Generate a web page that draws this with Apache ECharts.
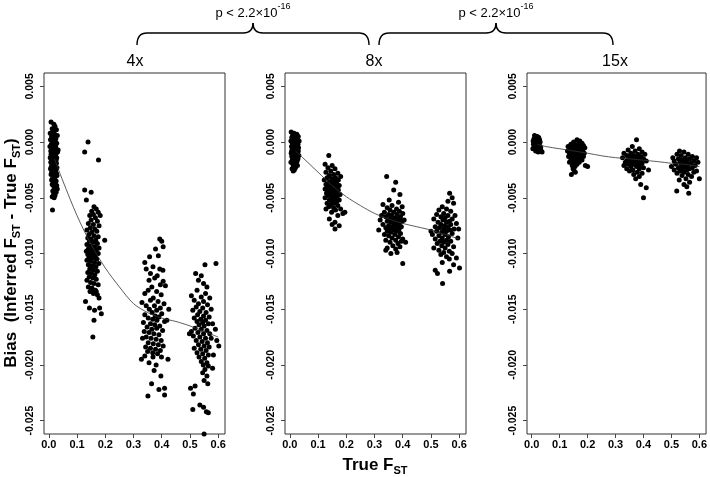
<!DOCTYPE html>
<html><head><meta charset="utf-8">
<script src="https://cdn.jsdelivr.net/npm/echarts@6/dist/echarts.min.js"></script>
<style>html,body{margin:0;padding:0;background:#fff}#c{width:710px;height:477px}</style>
</head><body><div id="c"></div>
<script>
// ---- data ----
const panelNames = ['4x', '8x', '15x'];
const xTicks = [0, 0.1, 0.2, 0.3, 0.4, 0.5, 0.6];
const yTicks = [-0.025, -0.02, -0.015, -0.01, -0.005, 0, 0.005];
const pText = 'p < 2.2×10';
const pExp = '-16';

// 4x coverage
const cov4x_a = [[0.008,0.0018],[0.018,0.0016],[0.022,0.0014],[0.012,0.0012],[0.027,0.0011],[0.015,0.0009],[0.005,0.0008],[0.021,0.0007],[0.030,0.0006],[0.010,0.0005],[0.017,0.0004],[0.025,0.0003],[0.006,0.0002],[0.013,0.0001],[0.020,0.0000],[0.028,-0.0001],[0.009,-0.0002],[0.016,-0.0003],[0.023,-0.0003],[0.004,-0.0004],[0.011,-0.0005],[0.019,-0.0005],[0.026,-0.0006],[0.014,-0.0007],[0.007,-0.0008],[0.022,-0.0008],[0.031,-0.0009],[0.012,-0.0010],[0.018,-0.0010],[0.025,-0.0011],[0.009,-0.0012],[0.015,-0.0012],[0.021,-0.0013],[0.005,-0.0014],[0.028,-0.0014],[0.013,-0.0015],[0.019,-0.0015],[0.010,-0.0016],[0.024,-0.0017],[0.016,-0.0017],[0.007,-0.0018],[0.020,-0.0018],[0.027,-0.0019],[0.012,-0.0020],[0.017,-0.0020],[0.023,-0.0021],[0.009,-0.0022],[0.014,-0.0022],[0.029,-0.0023],[0.019,-0.0023],[0.006,-0.0024],[0.025,-0.0025],[0.011,-0.0025],[0.016,-0.0026],[0.021,-0.0027],[0.013,-0.0028],[0.027,-0.0028],[0.008,-0.0029],[0.018,-0.0030],[0.023,-0.0031],[0.014,-0.0032],[0.020,-0.0033],[0.010,-0.0034],[0.026,-0.0035],[0.016,-0.0036],[0.022,-0.0037],[0.012,-0.0038],[0.028,-0.0039],[0.018,-0.0040],[0.024,-0.0041],[0.030,-0.0042],[0.020,-0.0043],[0.014,-0.0044],[0.026,-0.0045],[0.017,-0.0047],[0.022,-0.0048],[0.012,-0.0049],[0.019,-0.0050],[0.013,-0.0061],[0.011,0.0003],[0.024,-0.0004],[0.008,-0.0011],[0.026,-0.0016],[0.015,-0.0021],[0.022,-0.0024],[0.010,-0.0027],[0.019,-0.0009],[0.029,-0.0030],[0.033,-0.0007]];
const cov4x_b = [[0.139,0.0000],[0.127,-0.0009],[0.176,-0.0016],[0.127,-0.0043],[0.150,-0.0045],[0.133,-0.0052],[0.160,-0.0058],[0.168,-0.0060],[0.152,-0.0062],[0.175,-0.0063],[0.158,-0.0065],[0.145,-0.0066],[0.182,-0.0066],[0.165,-0.0068],[0.150,-0.0070],[0.172,-0.0071],[0.140,-0.0073],[0.158,-0.0074],[0.178,-0.0075],[0.147,-0.0077],[0.163,-0.0078],[0.135,-0.0079],[0.170,-0.0080],[0.152,-0.0081],[0.142,-0.0083],[0.160,-0.0084],[0.175,-0.0085],[0.138,-0.0086],[0.150,-0.0087],[0.166,-0.0088],[0.198,-0.0088],[0.144,-0.0089],[0.157,-0.0090],[0.172,-0.0091],[0.135,-0.0092],[0.148,-0.0093],[0.162,-0.0094],[0.178,-0.0095],[0.140,-0.0096],[0.153,-0.0096],[0.168,-0.0097],[0.133,-0.0098],[0.146,-0.0099],[0.159,-0.0099],[0.175,-0.0100],[0.138,-0.0101],[0.150,-0.0102],[0.165,-0.0102],[0.142,-0.0104],[0.156,-0.0104],[0.170,-0.0105],[0.135,-0.0106],[0.148,-0.0107],[0.162,-0.0108],[0.177,-0.0109],[0.140,-0.0110],[0.153,-0.0111],[0.167,-0.0112],[0.145,-0.0114],[0.158,-0.0115],[0.172,-0.0116],[0.138,-0.0117],[0.150,-0.0118],[0.163,-0.0119],[0.143,-0.0121],[0.156,-0.0122],[0.168,-0.0123],[0.135,-0.0124],[0.148,-0.0126],[0.160,-0.0127],[0.175,-0.0128],[0.140,-0.0130],[0.153,-0.0131],[0.165,-0.0133],[0.146,-0.0134],[0.158,-0.0136],[0.172,-0.0137],[0.130,-0.0143],[0.144,-0.0149],[0.162,-0.0151],[0.160,-0.0160],[0.156,-0.0175],[0.180,-0.0149],[0.186,-0.0154],[0.178,-0.0140],[0.150,-0.0134],[0.168,-0.0134]];
const cov4x_c = [[0.393,-0.0087],[0.400,-0.0089],[0.378,-0.0096],[0.405,-0.0094],[0.357,-0.0103],[0.388,-0.0102],[0.340,-0.0108],[0.369,-0.0112],[0.393,-0.0114],[0.404,-0.0115],[0.345,-0.0114],[0.360,-0.0118],[0.384,-0.0120],[0.355,-0.0124],[0.375,-0.0122],[0.405,-0.0125],[0.395,-0.0128],[0.365,-0.0130],[0.413,-0.0129],[0.352,-0.0133],[0.382,-0.0134],[0.340,-0.0136],[0.398,-0.0137],[0.370,-0.0140],[0.330,-0.0144],[0.360,-0.0142],[0.387,-0.0143],[0.408,-0.0145],[0.345,-0.0147],[0.374,-0.0147],[0.395,-0.0149],[0.356,-0.0150],[0.382,-0.0151],[0.366,-0.0153],[0.400,-0.0154],[0.340,-0.0155],[0.377,-0.0156],[0.390,-0.0157],[0.352,-0.0158],[0.368,-0.0159],[0.383,-0.0160],[0.410,-0.0161],[0.335,-0.0162],[0.360,-0.0163],[0.375,-0.0164],[0.393,-0.0165],[0.348,-0.0166],[0.382,-0.0167],[0.365,-0.0168],[0.403,-0.0169],[0.338,-0.0170],[0.355,-0.0171],[0.372,-0.0172],[0.390,-0.0173],[0.345,-0.0175],[0.362,-0.0176],[0.380,-0.0177],[0.398,-0.0178],[0.332,-0.0176],[0.352,-0.0180],[0.370,-0.0181],[0.388,-0.0182],[0.405,-0.0183],[0.343,-0.0184],[0.360,-0.0185],[0.378,-0.0186],[0.395,-0.0187],[0.350,-0.0188],[0.368,-0.0189],[0.385,-0.0190],[0.328,-0.0195],[0.340,-0.0192],[0.369,-0.0193],[0.399,-0.0193],[0.422,-0.0195],[0.355,-0.0198],[0.373,-0.0205],[0.397,-0.0210],[0.364,-0.0217],[0.390,-0.0222],[0.410,-0.0221],[0.351,-0.0228],[0.410,-0.0227],[0.380,-0.0200],[0.418,-0.0160],[0.425,-0.0150]];
const cov4x_d = [[0.553,-0.0110],[0.592,-0.0109],[0.520,-0.0118],[0.540,-0.0120],[0.530,-0.0124],[0.548,-0.0127],[0.560,-0.0130],[0.525,-0.0133],[0.555,-0.0136],[0.505,-0.0138],[0.540,-0.0139],[0.570,-0.0140],[0.515,-0.0142],[0.548,-0.0143],[0.530,-0.0145],[0.562,-0.0146],[0.522,-0.0148],[0.545,-0.0149],[0.575,-0.0150],[0.510,-0.0151],[0.535,-0.0152],[0.557,-0.0153],[0.527,-0.0155],[0.548,-0.0156],[0.568,-0.0157],[0.515,-0.0158],[0.538,-0.0159],[0.555,-0.0160],[0.525,-0.0161],[0.545,-0.0162],[0.565,-0.0163],[0.532,-0.0164],[0.550,-0.0165],[0.580,-0.0163],[0.518,-0.0167],[0.540,-0.0168],[0.560,-0.0169],[0.505,-0.0170],[0.528,-0.0171],[0.548,-0.0172],[0.570,-0.0172],[0.590,-0.0168],[0.512,-0.0174],[0.535,-0.0175],[0.555,-0.0176],[0.575,-0.0176],[0.522,-0.0178],[0.543,-0.0179],[0.562,-0.0180],[0.530,-0.0182],[0.550,-0.0183],[0.568,-0.0184],[0.602,-0.0183],[0.515,-0.0185],[0.538,-0.0186],[0.557,-0.0187],[0.525,-0.0189],[0.545,-0.0190],[0.565,-0.0191],[0.583,-0.0191],[0.532,-0.0193],[0.552,-0.0194],[0.540,-0.0197],[0.560,-0.0198],[0.547,-0.0200],[0.565,-0.0201],[0.553,-0.0204],[0.580,-0.0203],[0.545,-0.0207],[0.560,-0.0210],[0.550,-0.0214],[0.563,-0.0217],[0.502,-0.0221],[0.518,-0.0219],[0.512,-0.0226],[0.535,-0.0236],[0.510,-0.0240],[0.548,-0.0238],[0.565,-0.0243],[0.558,-0.0242],[0.550,-0.0262],[0.498,-0.0172],[0.595,-0.0178]];

// 8x coverage
const cov8x_a = [[0.005,0.0009],[0.015,0.0008],[0.025,0.0007],[0.010,0.0006],[0.020,0.0006],[0.030,0.0005],[0.007,0.0004],[0.017,0.0004],[0.027,0.0003],[0.012,0.0002],[0.022,0.0002],[0.004,0.0001],[0.033,0.0001],[0.015,0.0000],[0.025,-0.0001],[0.009,-0.0001],[0.019,-0.0002],[0.029,-0.0002],[0.013,-0.0003],[0.023,-0.0003],[0.006,-0.0004],[0.017,-0.0004],[0.031,-0.0005],[0.011,-0.0005],[0.021,-0.0006],[0.026,-0.0006],[0.008,-0.0007],[0.015,-0.0007],[0.024,-0.0008],[0.012,-0.0008],[0.019,-0.0009],[0.028,-0.0009],[0.005,-0.0010],[0.016,-0.0010],[0.022,-0.0010],[0.010,-0.0011],[0.026,-0.0011],[0.014,-0.0012],[0.020,-0.0012],[0.032,-0.0012],[0.007,-0.0013],[0.018,-0.0013],[0.024,-0.0014],[0.012,-0.0014],[0.029,-0.0015],[0.016,-0.0015],[0.021,-0.0016],[0.009,-0.0016],[0.026,-0.0017],[0.014,-0.0017],[0.019,-0.0018],[0.004,-0.0018],[0.023,-0.0019],[0.011,-0.0020],[0.017,-0.0021],[0.027,-0.0021],[0.013,-0.0022],[0.020,-0.0023],[0.008,-0.0024],[0.016,-0.0025],[0.012,-0.0026],[0.018,-0.0007],[0.023,-0.0005],[0.010,-0.0003],[0.027,-0.0013],[0.006,-0.0009],[0.030,-0.0008]];
const cov8x_b = [[0.138,-0.0012],[0.125,-0.0020],[0.150,-0.0021],[0.135,-0.0023],[0.160,-0.0024],[0.145,-0.0026],[0.128,-0.0027],[0.170,-0.0028],[0.155,-0.0029],[0.140,-0.0030],[0.180,-0.0031],[0.132,-0.0032],[0.162,-0.0032],[0.148,-0.0033],[0.122,-0.0034],[0.172,-0.0034],[0.155,-0.0035],[0.138,-0.0036],[0.165,-0.0036],[0.145,-0.0037],[0.128,-0.0038],[0.158,-0.0038],[0.175,-0.0039],[0.150,-0.0039],[0.135,-0.0040],[0.162,-0.0040],[0.142,-0.0041],[0.168,-0.0041],[0.155,-0.0042],[0.125,-0.0042],[0.148,-0.0043],[0.172,-0.0043],[0.138,-0.0044],[0.160,-0.0044],[0.152,-0.0045],[0.130,-0.0046],[0.165,-0.0046],[0.145,-0.0047],[0.178,-0.0047],[0.157,-0.0048],[0.135,-0.0048],[0.168,-0.0049],[0.148,-0.0050],[0.125,-0.0050],[0.160,-0.0051],[0.175,-0.0052],[0.140,-0.0052],[0.152,-0.0053],[0.165,-0.0054],[0.132,-0.0055],[0.158,-0.0055],[0.145,-0.0056],[0.170,-0.0057],[0.138,-0.0058],[0.155,-0.0059],[0.180,-0.0060],[0.128,-0.0060],[0.162,-0.0061],[0.195,-0.0063],[0.188,-0.0064],[0.148,-0.0063],[0.170,-0.0066],[0.140,-0.0069],[0.160,-0.0072],[0.150,-0.0074],[0.175,-0.0075],[0.160,-0.0078],[0.155,-0.0038],[0.143,-0.0045],[0.168,-0.0039]];
const cov8x_c = [[0.343,-0.0031],[0.375,-0.0036],[0.368,-0.0043],[0.390,-0.0047],[0.352,-0.0052],[0.385,-0.0054],[0.330,-0.0056],[0.362,-0.0057],[0.398,-0.0058],[0.345,-0.0059],[0.378,-0.0060],[0.355,-0.0061],[0.388,-0.0062],[0.335,-0.0063],[0.368,-0.0063],[0.400,-0.0064],[0.350,-0.0065],[0.380,-0.0065],[0.360,-0.0066],[0.392,-0.0067],[0.340,-0.0067],[0.372,-0.0068],[0.355,-0.0069],[0.385,-0.0069],[0.320,-0.0070],[0.365,-0.0070],[0.398,-0.0071],[0.345,-0.0071],[0.378,-0.0072],[0.358,-0.0072],[0.388,-0.0073],[0.330,-0.0074],[0.370,-0.0074],[0.350,-0.0075],[0.382,-0.0075],[0.362,-0.0076],[0.395,-0.0076],[0.340,-0.0077],[0.375,-0.0077],[0.355,-0.0078],[0.387,-0.0078],[0.315,-0.0079],[0.368,-0.0079],[0.345,-0.0080],[0.380,-0.0080],[0.358,-0.0081],[0.392,-0.0082],[0.335,-0.0083],[0.372,-0.0083],[0.350,-0.0084],[0.385,-0.0085],[0.362,-0.0086],[0.400,-0.0087],[0.340,-0.0088],[0.375,-0.0088],[0.395,-0.0089],[0.355,-0.0090],[0.383,-0.0091],[0.365,-0.0093],[0.390,-0.0094],[0.345,-0.0095],[0.375,-0.0096],[0.340,-0.0097],[0.380,-0.0099],[0.358,-0.0100],[0.400,-0.0109],[0.410,-0.0090],[0.325,-0.0066],[0.405,-0.0070]];
const cov8x_d = [[0.566,-0.0046],[0.575,-0.0050],[0.560,-0.0053],[0.580,-0.0055],[0.540,-0.0058],[0.555,-0.0060],[0.528,-0.0061],[0.570,-0.0062],[0.545,-0.0064],[0.520,-0.0065],[0.585,-0.0066],[0.560,-0.0066],[0.535,-0.0067],[0.550,-0.0068],[0.510,-0.0069],[0.575,-0.0069],[0.542,-0.0070],[0.565,-0.0071],[0.525,-0.0072],[0.555,-0.0072],[0.590,-0.0073],[0.535,-0.0074],[0.570,-0.0074],[0.548,-0.0075],[0.515,-0.0076],[0.560,-0.0076],[0.530,-0.0077],[0.582,-0.0078],[0.545,-0.0078],[0.568,-0.0079],[0.520,-0.0080],[0.555,-0.0080],[0.538,-0.0081],[0.575,-0.0082],[0.505,-0.0083],[0.550,-0.0083],[0.528,-0.0084],[0.562,-0.0085],[0.540,-0.0086],[0.595,-0.0086],[0.515,-0.0087],[0.555,-0.0088],[0.532,-0.0089],[0.570,-0.0089],[0.545,-0.0090],[0.522,-0.0091],[0.560,-0.0092],[0.538,-0.0093],[0.580,-0.0094],[0.510,-0.0095],[0.550,-0.0095],[0.528,-0.0097],[0.565,-0.0098],[0.545,-0.0099],[0.575,-0.0100],[0.535,-0.0101],[0.555,-0.0103],[0.565,-0.0105],[0.590,-0.0104],[0.540,-0.0108],[0.580,-0.0110],[0.515,-0.0115],[0.523,-0.0118],[0.566,-0.0116],[0.601,-0.0113],[0.541,-0.0127],[0.500,-0.0080],[0.598,-0.0078]];

// 15x coverage
const cov15x_a = [[0.010,0.0006],[0.020,0.0005],[0.015,0.0004],[0.025,0.0004],[0.008,0.0003],[0.018,0.0003],[0.028,0.0002],[0.012,0.0002],[0.022,0.0001],[0.005,0.0001],[0.016,0.0000],[0.030,0.0000],[0.010,-0.0001],[0.024,-0.0001],[0.019,-0.0002],[0.006,-0.0002],[0.014,-0.0003],[0.027,-0.0003],[0.021,-0.0004],[0.009,-0.0004],[0.017,-0.0005],[0.032,-0.0005],[0.012,-0.0006],[0.025,-0.0006],[0.004,-0.0006],[0.019,-0.0007],[0.029,-0.0007],[0.014,-0.0008],[0.034,-0.0008],[0.023,-0.0009],[0.037,-0.0009],[0.011,0.0000],[0.020,-0.0001],[0.026,0.0001],[0.013,-0.0004],[0.008,-0.0005],[0.022,-0.0003],[0.016,-0.0006],[0.030,-0.0004],[0.018,0.0001]];
const cov15x_b = [[0.162,0.0002],[0.172,0.0001],[0.150,0.0000],[0.180,-0.0001],[0.140,-0.0002],[0.165,-0.0002],[0.155,-0.0003],[0.185,-0.0003],[0.130,-0.0004],[0.170,-0.0004],[0.148,-0.0005],[0.160,-0.0005],[0.190,-0.0005],[0.138,-0.0006],[0.175,-0.0006],[0.152,-0.0007],[0.165,-0.0007],[0.128,-0.0008],[0.183,-0.0008],[0.145,-0.0008],[0.158,-0.0009],[0.170,-0.0009],[0.135,-0.0010],[0.188,-0.0010],[0.150,-0.0010],[0.162,-0.0011],[0.178,-0.0011],[0.142,-0.0012],[0.155,-0.0012],[0.168,-0.0012],[0.132,-0.0013],[0.185,-0.0013],[0.148,-0.0013],[0.160,-0.0014],[0.175,-0.0014],[0.140,-0.0015],[0.153,-0.0015],[0.165,-0.0016],[0.180,-0.0016],[0.145,-0.0017],[0.158,-0.0017],[0.170,-0.0018],[0.135,-0.0018],[0.150,-0.0019],[0.162,-0.0020],[0.145,-0.0021],[0.192,-0.0021],[0.200,-0.0022],[0.155,-0.0022],[0.148,-0.0024],[0.152,-0.0026],[0.142,-0.0029],[0.156,-0.0027],[0.168,-0.0003],[0.145,-0.0004],[0.175,-0.0010],[0.138,-0.0009],[0.160,-0.0008],[0.150,-0.0011]];
const cov15x_c = [[0.375,0.0002],[0.360,-0.0004],[0.385,-0.0006],[0.345,-0.0007],[0.370,-0.0008],[0.395,-0.0009],[0.330,-0.0010],[0.355,-0.0010],[0.380,-0.0011],[0.405,-0.0011],[0.340,-0.0012],[0.365,-0.0012],[0.390,-0.0013],[0.350,-0.0013],[0.375,-0.0014],[0.325,-0.0014],[0.400,-0.0015],[0.360,-0.0015],[0.385,-0.0016],[0.345,-0.0016],[0.370,-0.0017],[0.410,-0.0017],[0.335,-0.0018],[0.355,-0.0018],[0.380,-0.0019],[0.395,-0.0019],[0.345,-0.0020],[0.365,-0.0020],[0.390,-0.0021],[0.330,-0.0021],[0.375,-0.0022],[0.355,-0.0022],[0.400,-0.0023],[0.340,-0.0024],[0.385,-0.0024],[0.362,-0.0025],[0.418,-0.0025],[0.350,-0.0026],[0.378,-0.0027],[0.395,-0.0028],[0.365,-0.0029],[0.385,-0.0031],[0.372,-0.0033],[0.390,-0.0038],[0.410,-0.0041],[0.400,-0.0050],[0.378,-0.0015],[0.358,-0.0013],[0.392,-0.0017],[0.368,-0.0019],[0.340,-0.0017],[0.382,-0.0021]];
const cov15x_d = [[0.529,-0.0008],[0.545,-0.0009],[0.520,-0.0011],[0.560,-0.0011],[0.535,-0.0012],[0.575,-0.0013],[0.505,-0.0014],[0.550,-0.0014],[0.590,-0.0014],[0.525,-0.0015],[0.565,-0.0015],[0.540,-0.0016],[0.510,-0.0017],[0.580,-0.0017],[0.555,-0.0017],[0.530,-0.0018],[0.595,-0.0018],[0.545,-0.0019],[0.570,-0.0019],[0.515,-0.0020],[0.560,-0.0020],[0.535,-0.0021],[0.585,-0.0021],[0.500,-0.0022],[0.550,-0.0022],[0.525,-0.0023],[0.575,-0.0023],[0.540,-0.0024],[0.565,-0.0024],[0.510,-0.0025],[0.555,-0.0025],[0.590,-0.0026],[0.530,-0.0026],[0.545,-0.0027],[0.580,-0.0027],[0.520,-0.0028],[0.560,-0.0029],[0.538,-0.0030],[0.572,-0.0031],[0.600,-0.0033],[0.552,-0.0033],[0.528,-0.0034],[0.565,-0.0036],[0.545,-0.0038],[0.519,-0.0044],[0.562,-0.0046],[0.555,-0.0040],[0.540,-0.0019],[0.558,-0.0023],[0.532,-0.0016]];

// smooth fit curves
const fitX = [0.02, 0.05, 0.1, 0.15, 0.2, 0.25, 0.3, 0.35, 0.4, 0.45, 0.5, 0.55, 0.6];
const fit4x = [-0.0015, -0.0035, -0.0066, -0.0092, -0.0113, -0.0130, -0.0145, -0.0153, -0.0158, -0.0161, -0.0165, -0.0170, -0.0175];
const fit8x = [-0.0008, -0.0015, -0.0027, -0.0039, -0.0049, -0.0057, -0.0064, -0.0069, -0.0073, -0.0076, -0.0079, -0.0083, -0.0087];
const fit15x = [-0.0002, -0.0004, -0.0006, -0.0008, -0.0010, -0.00123, -0.0014, -0.0015, -0.00163, -0.00175, -0.0019, -0.0020, -0.0022];

// ---- chart ----
const FONT = '"Liberation Sans", Arial, Helvetica, sans-serif';
const groups = [
  [cov4x_a, cov4x_b, cov4x_c, cov4x_d],
  [cov8x_a, cov8x_b, cov8x_c, cov8x_d],
  [cov15x_a, cov15x_b, cov15x_c, cov15x_d]
];
const fits = [fit4x, fit8x, fit15x];
const gridLefts = [44, 285, 527];
const titleX = [135, 374, 615];

const grids = [], xAxes = [], yAxes = [], series = [];
for (let i = 0; i < 3; i++) {
  grids.push({left: gridLefts[i], top: 73, width: 181, height: 361, show: true,
    borderColor: '#333', borderWidth: 1, backgroundColor: 'transparent', containLabel: false});
  xAxes.push({type: 'value', gridIndex: i, min: -0.017, max: 0.624, position: 'bottom',
    axisLine: {show: false, onZero: false}, splitLine: {show: false},
    axisTick: {show: true, customValues: xTicks, length: 4, lineStyle: {color: '#444'}},
    axisLabel: {customValues: xTicks, formatter: v => v.toFixed(1), color: '#000',
      fontWeight: 'bold', fontSize: 11, fontFamily: FONT, margin: 5}});
  yAxes.push({type: 'value', gridIndex: i, min: -0.0262, max: 0.0062, position: 'left',
    axisLine: {show: false, onZero: false}, splitLine: {show: false},
    axisTick: {show: true, customValues: yTicks, length: 4, lineStyle: {color: '#444'}},
    axisLabel: {customValues: yTicks, formatter: v => v.toFixed(3), rotate: 90, color: '#000',
      fontWeight: 'bold', fontSize: 10.5, fontFamily: FONT, margin: 8}});
  series.push({type: 'scatter', xAxisIndex: i, yAxisIndex: i, silent: true,
    data: [].concat(...groups[i]), symbol: 'circle', symbolSize: 5,
    itemStyle: {color: '#000', opacity: 1}});
  series.push({type: 'line', xAxisIndex: i, yAxisIndex: i, silent: true, z: 3,
    data: fitX.map((x, k) => [x, fits[i][k]]), showSymbol: false, smooth: 0.3,
    lineStyle: {color: '#333', width: 0.8}});
}

const braceStyle = {stroke: '#000', lineWidth: 1.4, fill: null};
function brace(x0, x1, yTop, yEnd, yApex) {
  const m = (x0 + x1) / 2, r = 10;
  return [
    {type: 'bezierCurve', silent: true, shape: {x1: x0, y1: yEnd, cpx1: x0, cpy1: yTop, x2: x0 + r, y2: yTop}, style: braceStyle},
    {type: 'line', silent: true, shape: {x1: x0 + r, y1: yTop, x2: m - r, y2: yTop}, style: braceStyle},
    {type: 'bezierCurve', silent: true, shape: {x1: m - r, y1: yTop, cpx1: m, cpy1: yTop, x2: m, y2: yApex}, style: braceStyle},
    {type: 'bezierCurve', silent: true, shape: {x1: m, y1: yApex, cpx1: m, cpy1: yTop, x2: m + r, y2: yTop}, style: braceStyle},
    {type: 'line', silent: true, shape: {x1: m + r, y1: yTop, x2: x1 - r, y2: yTop}, style: braceStyle},
    {type: 'bezierCurve', silent: true, shape: {x1: x1 - r, y1: yTop, cpx1: x1, cpy1: yTop, x2: x1, y2: yEnd}, style: braceStyle}
  ];
}

const graphics = [];
[[137, 369], [379, 613]].forEach(([a, b]) => {
  graphics.push(...brace(a, b, 33, 45, 23));
  graphics.push({type: 'text', silent: true, x: (a + b) / 2, y: 13,
    style: {text: '{a|' + pText + '}{b|' + pExp + '}', align: 'center', verticalAlign: 'middle',
      fill: '#000', rich: {
        a: {fontSize: 13, fontFamily: FONT, fill: '#000', lineHeight: 22},
        b: {fontSize: 9, fontFamily: FONT, fill: '#000', verticalAlign: 'top'}}}});
});
panelNames.forEach((n, i) => {
  graphics.push({type: 'text', silent: true, x: titleX[i], y: 62,
    style: {text: n, align: 'center', verticalAlign: 'middle', fill: '#000',
      fontSize: 16, fontFamily: FONT}});
});
const richTitle = {
  b: {fontSize: 17, fontWeight: 'bold', fontFamily: FONT, fill: '#000', lineHeight: 22},
  s: {fontSize: 11, fontWeight: 'bold', fontFamily: FONT, fill: '#000', verticalAlign: 'bottom'}
};
graphics.push({type: 'text', silent: true, x: 11, y: 253, rotation: Math.PI / 2,
  style: {text: '{b|Bias  (Inferred F}{s|ST}{b| - True F}{s|ST}{b|)}', align: 'center',
    verticalAlign: 'middle', fill: '#000', rich: richTitle}});
graphics.push({type: 'text', silent: true, x: 375, y: 465,
  style: {text: '{b|True F}{s|ST}', align: 'center', verticalAlign: 'middle', fill: '#000', rich: richTitle}});

const chart = echarts.init(document.getElementById('c'), null, {renderer: 'canvas'});
chart.setOption({
  animation: false,
  backgroundColor: '#fff',
  grid: grids, xAxis: xAxes, yAxis: yAxes, series: series,
  graphic: graphics
});
</script>
</body></html>
